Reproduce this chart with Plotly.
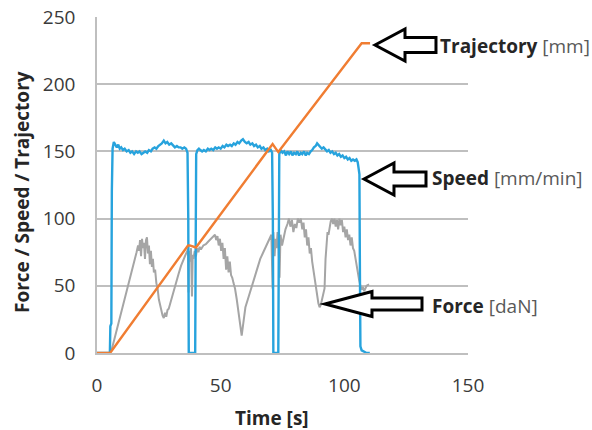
import plotly.graph_objects as go

# ---- data ----
speed_t = [0, 5.2, 5.4, 5.8, 6.0, 6.3, 6.8, 7.4, 8.0, 8.6, 9.2, 9.8, 10.5, 11.2, 12.0, 12.8,
           13.5, 14.2, 15.0, 15.8, 16.5, 17.2, 18.0, 18.8, 19.5, 20.3, 21.0, 21.8, 22.5, 23.3,
           24.0, 24.8, 25.5, 26.2, 27.0, 27.7, 28.4, 29.2, 30.0, 30.8, 31.5, 32.3, 33.0, 33.8,
           34.5, 35.3, 36.0, 36.6, 36.9, 37.1, 39.7, 39.9, 40.1, 40.6, 41.2, 41.8, 42.5, 43.2,
           44.0, 44.8, 45.5, 46.2, 47.0, 47.8, 48.5, 49.2, 50.0, 50.8, 51.5, 52.3, 53.0, 53.8,
           54.5, 55.3, 56.0, 56.8, 57.5, 58.3, 59.0, 59.8, 60.5, 61.3, 62.0, 62.8, 63.5, 64.3,
           65.0, 65.8, 66.5, 67.3, 68.0, 68.8, 69.5, 70.3, 70.8, 71.1, 71.3, 73.3, 73.5, 73.7,
           74.3, 75.0, 75.7, 76.4, 77.0, 77.7, 78.4, 79.0, 79.7, 80.4, 81.0, 81.7, 82.4, 83.0,
           83.7, 84.4, 85.0, 85.7, 86.4, 87.0, 87.7, 88.4, 89.0, 89.5, 90.2, 90.9, 91.6, 92.3,
           93.0, 93.7, 94.4, 95.1, 95.8, 96.5, 97.2, 97.9, 98.6, 99.3, 100.0, 100.7, 101.4, 102.1,
           102.8, 103.5, 104.2, 104.9, 105.4, 105.8, 106.1, 106.3, 106.5, 107.0, 108.0, 109.0, 110.3]
speed_v = [0, 0, 20, 22, 120, 152, 157, 155, 153, 155, 152, 153, 151, 152, 150, 151,
           149, 150, 148, 150, 149, 150, 148, 149, 150, 149, 151, 150, 152, 153,
           152, 154, 155, 156, 158, 156, 157, 155, 156, 154, 153, 154, 153, 153,
           152, 153, 152, 149, 100, 0, 0, 80, 148, 151, 152, 151, 150, 151,
           150, 152, 151, 152, 151, 153, 152, 153, 152, 154, 153, 155, 154, 155,
           154, 156, 155, 157, 156, 158, 159, 157, 156, 157, 155, 156, 154, 155,
           153, 154, 152, 153, 151, 152, 150, 151, 149, 100, 0, 0, 90, 148,
           151, 149, 150, 147, 150, 148, 150, 147, 149, 148, 150, 147, 149, 148,
           150, 147, 149, 148, 150, 151, 153, 154, 156, 155, 154, 152, 153, 151,
           150, 151, 149, 150, 148, 149, 147, 148, 146, 147, 145, 146, 144, 145,
           143, 144, 143, 144, 142, 137, 133, 60, 5, 2, 1, 0, 0]

force_t = [5.1, 6, 7, 8, 9, 10, 11, 12, 13, 14, 15, 16, 16.6, 17.0, 17.4, 17.8, 18.2, 18.6,
           19.0, 19.4, 19.8, 20.2, 20.6, 21.0, 21.4, 21.8, 22.2, 22.6, 23.0, 23.5, 24.0, 24.5,
           25.0, 25.5, 26.0, 26.5, 27.0, 27.5, 28.0, 28.5, 29.0, 30.0, 31.0, 32.0, 33.0, 34.0,
           35.0, 36.0, 36.8, 37.0, 37.2, 37.6, 38.0, 38.4, 38.7, 39.0, 39.5, 40.0, 40.5, 41.0,
           41.5, 42.0, 43.0, 44.0, 45.0, 46.0, 47.0, 47.7, 48.2, 48.7, 49.2, 49.7, 50.2, 50.7,
           51.2, 51.7, 52.2, 52.7, 53.2, 53.7, 54.2, 54.7, 55.2, 55.8, 56.5, 57.0, 57.5, 58.0,
           58.5, 59.0, 59.5, 60.0, 61.0, 62.0, 63.0, 64.0, 65.0, 66.0, 67.0, 68.0, 69.0, 70.0,
           70.5, 71.0, 71.3, 71.8, 72.2, 72.6, 73.0, 73.4, 73.8, 74.2, 74.8, 75.5, 76.2, 77.0,
           77.6, 78.2, 78.8, 79.4, 80.0, 80.6, 81.2, 81.8, 82.4, 83.0, 83.5, 84.0, 84.5, 85.0,
           85.5, 86.0, 86.5, 87.0, 87.5, 88.0, 88.5, 89.0, 89.5, 90.0, 90.5, 91.0, 91.5, 92.0,
           92.4, 92.8, 93.2, 93.6, 94.0, 94.5, 95.0, 95.5, 96.0, 96.5, 97.0, 97.5, 98.0, 98.5,
           99.0, 99.5, 100.0, 100.5, 101.0, 101.5, 102.0, 102.5, 103.0, 103.5, 104.0, 104.5,
           105.0, 105.5, 106.0, 106.5, 107.0, 107.5, 108.0, 108.5, 109.0, 110.0]
force_v = [0, 3, 10, 17, 24, 31, 38, 46, 53, 61, 68, 75, 80, 76, 84, 72, 85, 78,
           82, 70, 84, 86, 74, 80, 66, 76, 64, 70, 60, 62, 52, 48,
           40, 35, 30, 28, 26, 30, 27, 32, 33, 40, 47, 53, 59, 65,
           70, 74, 77, 45, 76, 68, 78, 42, 73, 70, 76, 72, 78, 75,
           79, 77, 80, 81, 83, 85, 87, 88, 84, 87, 80, 85, 76, 82,
           70, 78, 62, 72, 60, 68, 58, 56, 52, 48, 40, 33, 25, 18,
           13, 20, 28, 34, 40, 46, 52, 58, 64, 70, 74, 78, 82, 86,
           88, 48, 90, 72, 85, 78, 90, 82, 56, 88, 80, 86, 92, 96,
           100, 94, 99, 90, 96, 93, 100, 97, 100, 92, 97, 86, 92, 80,
           86, 74, 78, 68, 62, 56, 50, 42, 37, 34, 36, 40, 44, 48,
           70, 84, 90, 88, 94, 98, 100, 96, 100, 94, 99, 92, 100, 95,
           99, 90, 94, 86, 92, 84, 88, 80, 86, 78, 76, 70,
           66, 60, 54, 50, 48, 49, 46, 48, 50, 51]

traj_t = [0, 5.3, 36.8, 37.5, 40.0, 71.0, 73.3, 107.0, 110.4]
traj_v = [0, 0, 80, 80, 78.5, 155.5, 149.5, 230.5, 230.5]

x_ticks = [0, 50, 100, 150]
y_ticks = [0, 50, 100, 150, 200, 250]

# series labels next to the arrows: (bold name, unit)
labels = [("Trajectory", "[mm]"), ("Speed", "[mm/min]"), ("Force", "[daN]")]

# ---- layout helpers (pixel -> paper) ----
W, H = 592, 430
ML, MR, MT, MB = 97, 124, 17, 77
PW, PH = W - ML - MR, H - MT - MB


def px(x):
    return (x - ML) / PW


def py(y):
    return (H - MB - y) / PH


def arrow_path(tx, ty, hx, hh, sh, rx):
    pts = [(tx, ty), (hx, ty - hh), (hx, ty - sh), (rx, ty - sh),
           (rx, ty + sh), (hx, ty + sh), (hx, ty + hh)]
    return "M " + " L ".join(f"{px(a):.4f},{py(b):.4f}" for a, b in pts) + " Z"


FONT = "Open Sans"

fig = go.Figure()
fig.add_trace(go.Scatter(x=force_t, y=force_v, mode="lines", name="Force",
                         line=dict(color="#A5A5A5", width=2), cliponaxis=False))
fig.add_trace(go.Scatter(x=speed_t, y=speed_v, mode="lines", name="Speed",
                         line=dict(color="#27A3DD", width=2.4), cliponaxis=False))
fig.add_trace(go.Scatter(x=traj_t, y=traj_v, mode="lines", name="Trajectory",
                         line=dict(color="#F07D32", width=2.4), cliponaxis=False))

# hollow block arrows pointing at the curves
arrows = [(375, 45, 405, 16, 7.5, 436),
          (364, 179, 394, 16, 7, 426),
          (325, 304, 372, 12.5, 6, 422)]
for a in arrows:
    fig.add_shape(type="path", xref="paper", yref="paper", path=arrow_path(*a),
                  line=dict(color="black", width=3), fillcolor="white", layer="above")

label_pos = [(438, 46), (430, 178), (430, 306)]
for (name, unit), (lx, ly) in zip(labels, label_pos):
    fig.add_annotation(x=px(lx), y=py(ly), xref="paper", yref="paper",
                       xanchor="left", yanchor="middle", showarrow=False,
                       text=f"<b>{name}</b> <span style='color:#595959'>{unit}</span>",
                       font=dict(family=FONT, size=19, color="#262626"))

# axis titles
fig.add_annotation(x=px(22), y=py(192), xref="paper", yref="paper", showarrow=False,
                   xanchor="center", yanchor="middle",
                   textangle=-90, text="<b>Force / Speed / Trajectory</b>",
                   font=dict(family=FONT, size=19, color="#262626"))
fig.add_annotation(x=px(272), y=py(418), xref="paper", yref="paper", showarrow=False,
                   xanchor="center", yanchor="middle",
                   text="<b>Time [s]</b>", font=dict(family=FONT, size=19, color="#262626"))

fig.update_layout(
    width=W, height=H,
    margin=dict(l=ML, r=MR, t=MT, b=MB),
    paper_bgcolor="white", plot_bgcolor="white",
    showlegend=False,
    font=dict(family=FONT, size=19, color="#3A3A3A"),
)
fig.update_xaxes(range=[0, 150], tickvals=x_ticks, showgrid=False, zeroline=False,
                 showline=True, linecolor="#BFBFBF", linewidth=1.5, automargin=False,
                 ticks="", ticklabelstandoff=14)
fig.update_yaxes(range=[0, 250], tickvals=y_ticks, showgrid=True, gridcolor="#BFBFBF",
                 gridwidth=1.5, zeroline=False, showline=True, linecolor="#BFBFBF",
                 linewidth=1.5, automargin=False, ticks="", ticklabelstandoff=16)

# drop the page's default body margin so the figure sits at the window's corner
fig.write_html("out.html", config={"displayModeBar": False},
               post_script="document.body.style.margin='0';")
